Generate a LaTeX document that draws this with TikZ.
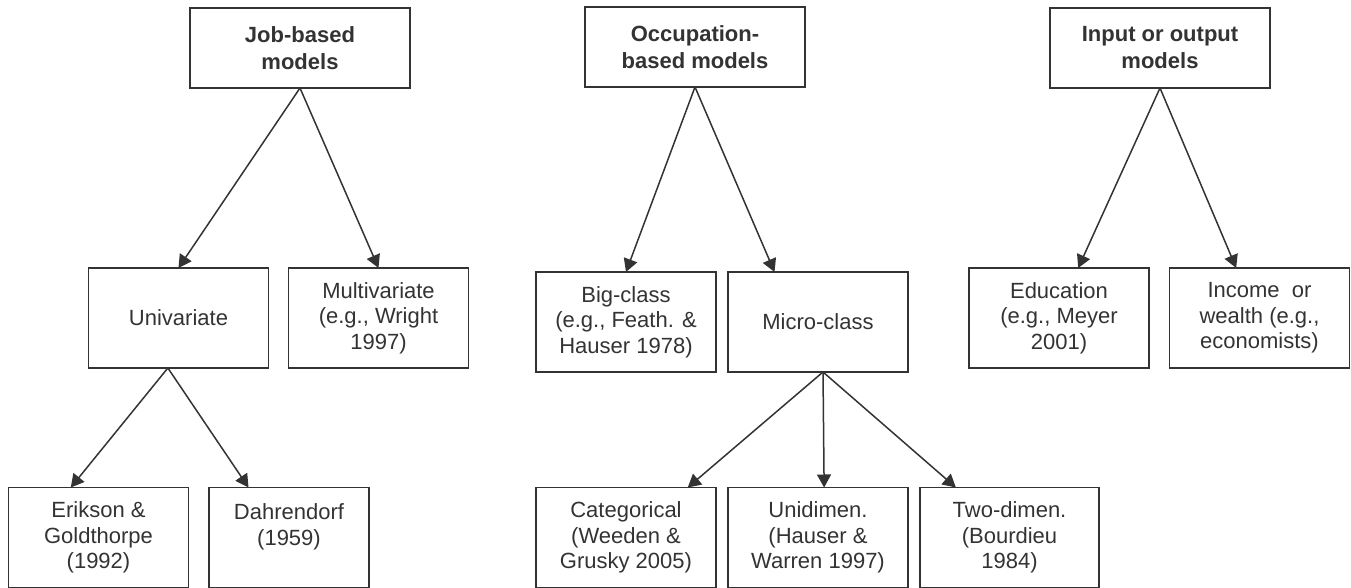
\documentclass[tikz,border=0pt]{standalone}
\usepackage{fontspec}
\setmainfont{Liberation Sans}
\usetikzlibrary{arrows.meta}
\definecolor{ink}{HTML}{333333}
\begin{document}
\begin{tikzpicture}[x=0.5pt,y=-0.5pt]
\tikzset{boite/.style={draw=ink, line width=0.75pt, text=ink, align=center, minimum width=90pt, minimum height=50pt, inner sep=0pt, outer sep=0pt, font=\fontsize{11}{12.75}\selectfont},
entete/.style={boite, minimum width=110pt, minimum height=40pt, font=\bfseries\fontsize{11}{13.5}\selectfont},
fleche/.style={draw=ink, line width=0.75pt, -{Triangle[length=6.5pt,width=7pt]}}}
\useasboundingbox (0,0) rectangle (1351,588);
\node[entete] (job) at (300,48) {Job-based\\models};
\node[entete] (occ) at (695,47) {Occupation-\\based models};
\node[entete] (inout) at (1160,48) {Input or output\\models};
\node[boite] (univ) at (178.5,318) {Univariate};
\node[boite] (multi) at (378.5,318) {Multivariate\\(e.g., Wright\\1997)};
\node[boite] (big) at (626,322) {Big-class\\(e.g., Feath. \&\\Hauser 1978)};
\node[boite] (micro) at (818,322) {Micro-class};
\node[boite] (edu) at (1059,318) {Education\\(e.g., Meyer\\2001)};
\node[boite] (inc) at (1259.5,318) {Income\ \ or\\wealth (e.g.,\\economists)};
\node[boite] (erik) at (98.5,537.5) {Erikson \&\\Goldthorpe\\(1992)};
\node[boite, minimum width=80pt] (dahr) at (289,537.5) {Dahrendorf\\(1959)\\\mbox{}};
\node[boite] (cat) at (626,537.5) {Categorical\\(Weeden \&\\Grusky 2005)};
\node[boite] (uni) at (818,537.5) {Unidimen.\\(Hauser \&\\Warren 1997)};
\node[boite, minimum width=89.5pt] (two) at (1009.5,537.5) {Two-dimen.\\(Bourdieu\\1984)};
\draw[fleche] (job.south) -- (univ.north);
\draw[fleche] (job.south) -- (multi.north);
\draw[fleche] (occ.south) -- (big.north);
\draw[fleche] (occ.south) -- (micro.131);
\draw[fleche] (inout.south) -- (edu.69);
\draw[fleche] (inout.south) -- (inc.115);
\draw[fleche] (univ.-102) -- (erik.119);
\draw[fleche] (univ.-102) -- (dahr.129);
\draw[fleche] ([xshift=2.5pt]micro.south) -- (cat.39);
\draw[fleche] ([xshift=2.5pt]micro.south) -- (uni.83);
\draw[fleche] ([xshift=2.5pt]micro.south) -- (two.137);
\end{tikzpicture}
\end{document}
